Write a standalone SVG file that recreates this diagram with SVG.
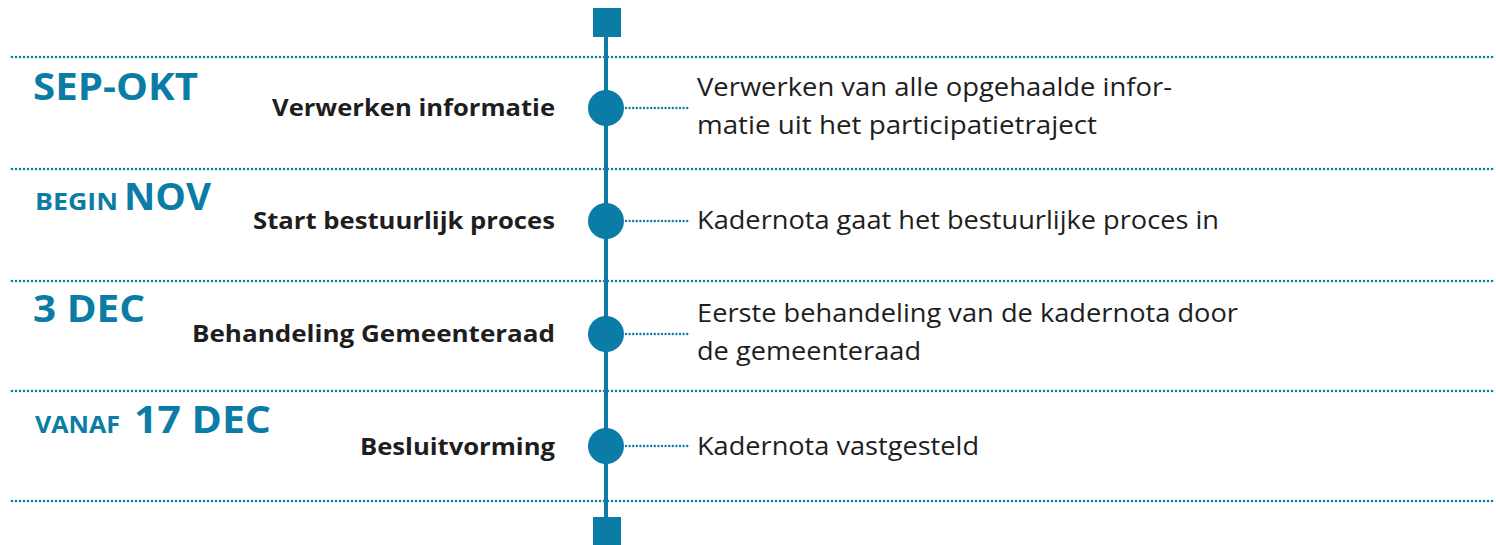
<svg xmlns="http://www.w3.org/2000/svg" width="1496" height="545" viewBox="0 0 1496 545">
<style>
.sep{stroke:#0a7ca5;stroke-width:2.6;stroke-dasharray:0 4;stroke-linecap:round;fill:none}
.con{stroke:#0a7ca5;stroke-width:2.4;stroke-dasharray:0 3.6;stroke-linecap:round;fill:none}
.axis{stroke:#0a7ca5;stroke-width:4;fill:none}
.dot{fill:#0a7ca5}
.date{font-family:"Open Sans","Noto Sans",sans-serif;font-weight:700;fill:#0a7ca5;font-size:38px}
.small{font-size:24px}
.lbl{font-family:"Open Sans","Noto Sans",sans-serif;font-weight:700;fill:#1e1e1e;font-size:24px;text-anchor:end}
.desc{font-family:"Open Sans","Noto Sans",sans-serif;fill:#1e1e1e;font-size:25px}
</style>
<g id="separators">
<line class="sep" x1="12" y1="57" x2="1496" y2="57"/>
<line class="sep" x1="12" y1="169" x2="1496" y2="169"/>
<line class="sep" x1="12" y1="281" x2="1496" y2="281"/>
<line class="sep" x1="12" y1="391" x2="1496" y2="391"/>
<line class="sep" x1="12" y1="501" x2="1496" y2="501"/>
</g>
<g id="connectors">
<line class="axis" x1="606" y1="30" x2="606" y2="525"/>
<line class="con" x1="626" y1="108" x2="690" y2="108"/>
<line class="con" x1="626" y1="221" x2="690" y2="221"/>
<line class="con" x1="626" y1="334" x2="690" y2="334"/>
<line class="con" x1="626" y1="446" x2="690" y2="446"/>
</g>
<g id="start"><rect class="dot" x="593" y="8" width="28" height="29"/></g>
<g id="end"><rect class="dot" x="593" y="517" width="28" height="28"/></g>
<g id="row1">
<text class="date" x="33" y="100" textLength="165" lengthAdjust="spacingAndGlyphs">SEP-OKT</text>
<text class="lbl" x="555" y="116" textLength="283" lengthAdjust="spacingAndGlyphs">Verwerken informatie</text>
<circle class="dot" cx="606" cy="108" r="18"/>
<text class="desc" x="697" y="96" textLength="475" lengthAdjust="spacingAndGlyphs">Verwerken van alle opgehaalde infor-</text>
<text class="desc" x="697" y="134" textLength="400" lengthAdjust="spacingAndGlyphs">matie uit het participatietraject</text>
</g>
<g id="row2">
<text class="date small" x="35" y="210" textLength="83" lengthAdjust="spacingAndGlyphs">BEGIN</text>
<text class="date" x="124" y="210" textLength="87" lengthAdjust="spacingAndGlyphs">NOV</text>
<text class="lbl" x="555" y="229" textLength="302" lengthAdjust="spacingAndGlyphs">Start bestuurlijk proces</text>
<circle class="dot" cx="606" cy="221" r="18"/>
<text class="desc" x="697" y="229" textLength="522" lengthAdjust="spacingAndGlyphs">Kadernota gaat het bestuurlijke proces in</text>
</g>
<g id="row3">
<text class="date" x="33" y="322" textLength="112" lengthAdjust="spacingAndGlyphs">3 DEC</text>
<text class="lbl" x="555" y="342" textLength="363" lengthAdjust="spacingAndGlyphs">Behandeling Gemeenteraad</text>
<circle class="dot" cx="606" cy="334" r="18"/>
<text class="desc" x="697" y="322" textLength="541" lengthAdjust="spacingAndGlyphs">Eerste behandeling van de kadernota door</text>
<text class="desc" x="697" y="360" textLength="224" lengthAdjust="spacingAndGlyphs">de gemeenteraad</text>
</g>
<g id="row4">
<text class="date small" x="35" y="433" textLength="85" lengthAdjust="spacingAndGlyphs">VANAF</text>
<text class="date" x="134" y="433" textLength="137" lengthAdjust="spacingAndGlyphs">17 DEC</text>
<text class="lbl" x="555" y="455" textLength="195" lengthAdjust="spacingAndGlyphs">Besluitvorming</text>
<circle class="dot" cx="606" cy="446" r="18"/>
<text class="desc" x="697" y="455" textLength="282" lengthAdjust="spacingAndGlyphs">Kadernota vastgesteld</text>
</g>
</svg>
